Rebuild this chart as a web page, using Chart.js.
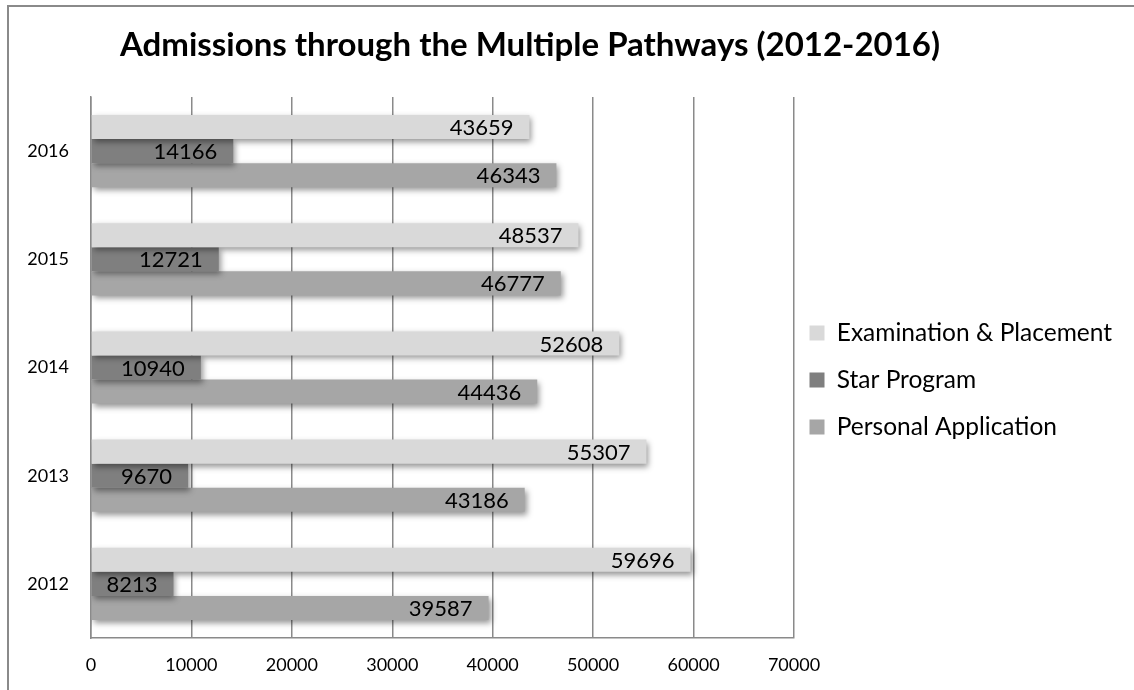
<!DOCTYPE html>
<html><head><meta charset="utf-8">
<script src="https://cdn.jsdelivr.net/npm/chart.js@4.4.0/dist/chart.umd.min.js"></script>
<style>
html,body{margin:0;padding:0;width:1134px;height:690px;overflow:hidden;background:#fff;position:relative;}
#frame{position:absolute;left:7px;top:5px;width:1300px;height:900px;border-top:2px solid #8a8a8a;border-left:2px solid #8a8a8a;}
#c{position:absolute;left:-65px;top:0;}
</style></head><body>
<div id="frame"></div>
<canvas id="c" width="1190" height="690"></canvas>
<script>
const categories = ['2016', '2015', '2014', '2013', '2012'];
const seriesNames = ['Examination & Placement', 'Star Program', 'Personal Application'];
const examination = [43659, 48537, 52608, 55307, 59696];
const starProgram = [14166, 12721, 10940, 9670, 8213];
const personalApplication = [46343, 46777, 44436, 43186, 39587];
const xTickMin = 0, xTickMax = 70000, xTickStep = 10000;
const titleText = 'Admissions through the Multiple Pathways (2012-2016)';

const FONT = 'Lato';
const gridColor = '#8a8a8a';

const decor = {
  id: 'decor',
  afterLayout(chart) {
    const lg = chart.legend;
    lg.left -= 7;
    lg.right += 40;
    lg.width = lg.right - lg.left;
    lg.top += 12.5; lg.bottom += 12.5;
  },
  beforeDatasetsDraw(chart) {
    const ctx = chart.ctx;
    ctx.save();
    ctx.shadowColor = 'rgba(0,0,0,0.42)';
    ctx.shadowBlur = 6;
    ctx.shadowOffsetX = 2;
    ctx.shadowOffsetY = 3;
  },
  afterDatasetsDraw(chart) {
    const ctx = chart.ctx;
    ctx.restore();
    ctx.save();
    ctx.font = '22px ' + FONT;
    ctx.fillStyle = '#000';
    ctx.textAlign = 'right';
    ctx.textBaseline = 'middle';
    chart.data.datasets.forEach((ds, i) => {
      chart.getDatasetMeta(i).data.forEach((bar, j) => {
        ctx.fillText(String(ds.data[j]), bar.x - 16, bar.y + 1);
      });
    });
    ctx.restore();
  }
};

function draw() {
  new Chart(document.getElementById('c'), {
    type: 'bar',
    data: {
      labels: categories,
      datasets: [
        { label: seriesNames[0], data: examination, backgroundColor: '#d9d9d9' },
        { label: seriesNames[1], data: starProgram, backgroundColor: '#7f7f7f' },
        { label: seriesNames[2], data: personalApplication, backgroundColor: '#a6a6a6' }
      ]
    },
    options: {
      indexAxis: 'y',
      responsive: false,
      animation: false,
      categoryPercentage: 0.667,
      barPercentage: 1.0,
      layout: { padding: { left: 31, right: 31, top: 0, bottom: 8 } },
      plugins: {
        title: {
          display: true, text: titleText, color: '#000',
          font: { family: FONT, size: 33, weight: 'bold' },
          padding: { top: 25.5, bottom: 31.9 }
        },
        legend: {
          position: 'right', align: 'center', fullSize: false, maxWidth: 300,
          labels: { color: '#000', font: { family: FONT, size: 24.5 }, boxWidth: 15, boxHeight: 15, padding: 22.5 }
        },
        tooltip: { enabled: false }
      },
      scales: {
        x: {
          min: xTickMin, max: xTickMax,
          ticks: { stepSize: xTickStep, color: '#000', font: { family: FONT, size: 18 }, padding: 16, maxRotation: 0,
                   callback: (v) => String(v) },
          grid: { color: gridColor, lineWidth: 1.5, drawTicks: false },
          border: { color: gridColor, width: 1.5 },
          afterFit(s) { s.height = 44; }
        },
        y: {
          ticks: { color: '#000', font: { family: FONT, size: 18 }, padding: 22 },
          grid: { display: false, drawTicks: false },
          border: { display: true, color: gridColor, width: 1.5 },
          afterFit(s) { s.width = 125; }
        }
      }
    },
    plugins: [decor]
  });
}
if (document.fonts && document.fonts.load) {
  Promise.all([document.fonts.load('22px Lato'), document.fonts.load('bold 33px Lato'), document.fonts.load('24.5px Lato')]).then(draw, draw);
} else { draw(); }
</script>
</body></html>
